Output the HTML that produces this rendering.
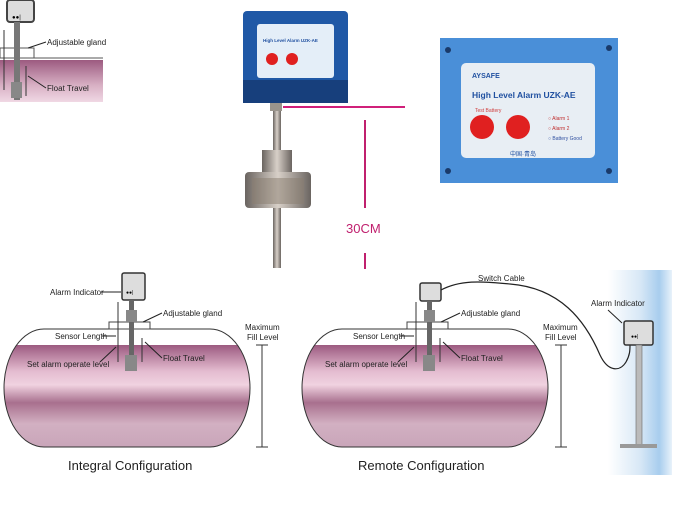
<!DOCTYPE html>
<html><head><meta charset="utf-8"><style>
html,body{margin:0;padding:0;background:#fff;}
svg{display:block;}
text{font-family:"Liberation Sans",sans-serif;}
</style></head><body>
<svg width="700" height="506" viewBox="0 0 700 506" xmlns="http://www.w3.org/2000/svg">
<defs>
<linearGradient id="pk" x1="0" y1="0" x2="0" y2="1">
<stop offset="0" stop-color="#9c5a80"/>
<stop offset="0.25" stop-color="#e4bcd0"/>
<stop offset="0.38" stop-color="#f0d2e0"/>
<stop offset="0.55" stop-color="#a8708e"/>
<stop offset="0.75" stop-color="#d2b0c2"/>
<stop offset="1" stop-color="#c8a4b8"/>
</linearGradient>
<linearGradient id="pk2" x1="0" y1="0" x2="0" y2="1">
<stop offset="0" stop-color="#9c5a80"/>
<stop offset="0.6" stop-color="#d8b0c4"/>
<stop offset="1" stop-color="#f0d8e4"/>
</linearGradient>
<linearGradient id="bl" x1="0" y1="0" x2="1" y2="0">
<stop offset="0" stop-color="#ffffff"/>
<stop offset="0.5" stop-color="#d8e8f6"/>
<stop offset="0.8" stop-color="#a8cdee"/>
<stop offset="1" stop-color="#e8f2fa"/>
</linearGradient>
<linearGradient id="rod" x1="0" y1="0" x2="1" y2="0">
<stop offset="0" stop-color="#6a6460"/><stop offset="0.5" stop-color="#d8d0c8"/><stop offset="1" stop-color="#6a6460"/>
</linearGradient>
<clipPath id="t1"><rect x="4" y="329" width="246" height="118" rx="40" ry="59"/></clipPath>
<clipPath id="t2"><rect x="302" y="329" width="246" height="118" rx="40" ry="59"/></clipPath>
</defs>

<!-- top-left fragment -->
<rect x="0" y="60" width="103" height="42" fill="url(#pk2)"/>
<line x1="0" y1="58" x2="103" y2="58" stroke="#555"/>
<rect x="0" y="48" width="34" height="10" fill="#fff" stroke="#555"/>
<rect x="7" y="0" width="27" height="22" rx="3" fill="#ddd" stroke="#444" stroke-width="2"/>
<text x="12" y="19" font-size="6">●●|</text>
<rect x="14" y="22" width="6" height="78" fill="#777"/>
<rect x="11" y="82" width="11" height="16" fill="#888"/>
<line x1="4" y1="30" x2="4" y2="90" stroke="#333"/>
<line x1="26" y1="66" x2="26" y2="96" stroke="#333"/>
<text x="47" y="45" font-size="8" fill="#222">Adjustable gland</text>
<text x="47" y="91" font-size="8" fill="#222">Float Travel</text>
<line x1="28" y1="48" x2="46" y2="42" stroke="#222"/>
<line x1="28" y1="76" x2="46" y2="88" stroke="#222"/>

<!-- photo device -->
<rect x="243" y="11" width="105" height="92" rx="4" fill="#1f58a6"/>
<rect x="243" y="80" width="105" height="23" fill="#173f7c"/>
<rect x="257" y="24" width="77" height="54" rx="3" fill="#e4eef8"/>
<text x="263" y="42" font-size="4.5" fill="#2050a0" font-weight="bold">High Level Alarm UZK-AE</text>
<circle cx="272" cy="59" r="6" fill="#e02020"/><circle cx="292" cy="59" r="6" fill="#e02020"/>
<rect x="270" y="103" width="12" height="8" fill="#9a948c"/>
<rect x="273" y="111" width="8" height="157" fill="url(#rod)"/>
<rect x="262" y="150" width="30" height="24" fill="url(#rod)"/>
<rect x="245" y="172" width="66" height="36" rx="4" fill="url(#rod)"/>
<rect x="252" y="178" width="52" height="26" fill="#8a7e70" opacity="0.5"/>

<!-- magenta measurements -->
<line x1="283" y1="107" x2="405" y2="107" stroke="#d0207a" stroke-width="2"/>
<line x1="365" y1="120" x2="365" y2="208" stroke="#c0206e" stroke-width="2"/>
<line x1="365" y1="253" x2="365" y2="269" stroke="#c0206e" stroke-width="2"/>
<text x="346" y="233" font-size="13" fill="#c0206e">30CM</text>

<!-- big panel -->
<rect x="440" y="38" width="178" height="145" fill="#4a8fd8"/>
<circle cx="448" cy="50" r="3" fill="#1a3a6a"/><circle cx="609" cy="48" r="3" fill="#1a3a6a"/>
<circle cx="448" cy="171" r="3" fill="#1a3a6a"/><circle cx="609" cy="171" r="3" fill="#1a3a6a"/>
<rect x="461" y="63" width="134" height="95" rx="5" fill="#e8eef4"/>
<text x="472" y="78" font-size="7" fill="#2050a0" font-weight="bold">AYSAFE</text>
<text x="472" y="98" font-size="8.5" fill="#2050a0" font-weight="bold">High Level Alarm UZK-AE</text>
<text x="475" y="112" font-size="5" fill="#d04040">Test Battery</text>
<circle cx="482" cy="127" r="12" fill="#e02020"/><circle cx="518" cy="127" r="12" fill="#e02020"/>
<text x="548" y="120" font-size="5" fill="#c03030">○ Alarm 1</text>
<text x="548" y="130" font-size="5" fill="#c03030">○ Alarm 2</text>
<text x="548" y="140" font-size="5" fill="#3050a0">○ Battery Good</text>
<text x="510" y="156" font-size="6" fill="#2050a0">中国·青岛</text>

<!-- right blue bg -->
<rect x="608" y="270" width="64" height="205" fill="url(#bl)"/>

<!-- tank 1 -->
<g clip-path="url(#t1)"><rect x="0" y="329" width="260" height="120" fill="#fff"/><rect x="0" y="345" width="260" height="105" fill="url(#pk)"/></g>
<rect x="4" y="329" width="246" height="118" rx="40" ry="59" fill="none" stroke="#333"/>
<rect x="109" y="322" width="41" height="7" fill="#fff" stroke="#444"/>
<rect x="122" y="273" width="23" height="27" rx="2" fill="#ddd" stroke="#333" stroke-width="1.5"/>
<text x="126" y="294" font-size="5">●●|</text>
<rect x="129" y="300" width="5" height="65" fill="#666"/>
<rect x="126" y="310" width="11" height="12" fill="#888"/>
<rect x="125" y="355" width="12" height="16" fill="#888"/>
<line x1="118" y1="302" x2="118" y2="362" stroke="#333"/>
<line x1="142" y1="338" x2="142" y2="362" stroke="#333"/>
<line x1="262" y1="345" x2="262" y2="447" stroke="#333"/>
<line x1="256" y1="345" x2="268" y2="345" stroke="#333"/><line x1="256" y1="447" x2="268" y2="447" stroke="#333"/>
<g font-size="8" fill="#222">
<text x="50" y="295">Alarm Indicator</text>
<text x="163" y="316">Adjustable gland</text>
<text x="55" y="339">Sensor Length</text>
<text x="27" y="367">Set alarm operate level</text>
<text x="163" y="361">Float Travel</text>
<text x="245" y="330">Maximum</text><text x="247" y="340">Fill Level</text>
</g>
<g stroke="#222"><line x1="101" y1="292" x2="121" y2="292"/><line x1="143" y1="322" x2="162" y2="313"/><line x1="102" y1="336" x2="116" y2="336"/><line x1="100" y1="362" x2="116" y2="347"/><line x1="145" y1="342" x2="162" y2="358"/></g>
<text x="68" y="470" font-size="13" fill="#222">Integral Configuration</text>

<!-- tank 2 -->
<g clip-path="url(#t2)"><rect x="300" y="329" width="260" height="120" fill="#fff"/><rect x="300" y="345" width="260" height="105" fill="url(#pk)"/></g>
<rect x="302" y="329" width="246" height="118" rx="40" ry="59" fill="none" stroke="#333"/>
<rect x="407" y="322" width="41" height="7" fill="#fff" stroke="#444"/>
<rect x="420" y="283" width="21" height="18" rx="2" fill="#ddd" stroke="#333" stroke-width="1.5"/>
<rect x="427" y="301" width="5" height="64" fill="#666"/>
<rect x="424" y="310" width="11" height="12" fill="#888"/>
<rect x="423" y="355" width="12" height="16" fill="#888"/>
<line x1="416" y1="302" x2="416" y2="362" stroke="#333"/>
<line x1="440" y1="338" x2="440" y2="362" stroke="#333"/>
<line x1="561" y1="345" x2="561" y2="447" stroke="#333"/>
<line x1="555" y1="345" x2="567" y2="345" stroke="#333"/><line x1="555" y1="447" x2="567" y2="447" stroke="#333"/>
<path d="M441 290 C460 280,480 281,510 284 C560 288,585 320,600 355 C608 372,620 372,626 362 C630 355,630 350,630 345" fill="none" stroke="#222" stroke-width="1.2"/>
<rect x="624" y="321" width="29" height="24" rx="2" fill="#ddd" stroke="#333" stroke-width="1.5"/>
<text x="631" y="338" font-size="5">●●|</text>
<rect x="636" y="345" width="6" height="100" fill="#bbb" stroke="#666" stroke-width="0.6"/>
<rect x="620" y="444" width="37" height="4" fill="#999"/>
<g font-size="8" fill="#222">
<text x="478" y="281">Switch Cable</text>
<text x="591" y="306">Alarm Indicator</text>
<text x="461" y="316">Adjustable gland</text>
<text x="353" y="339">Sensor Length</text>
<text x="325" y="367">Set alarm operate level</text>
<text x="461" y="361">Float Travel</text>
<text x="543" y="330">Maximum</text><text x="545" y="340">Fill Level</text>
</g>
<g stroke="#222"><line x1="441" y1="322" x2="460" y2="313"/><line x1="400" y1="336" x2="414" y2="336"/><line x1="398" y1="362" x2="414" y2="347"/><line x1="443" y1="342" x2="460" y2="358"/><line x1="608" y1="310" x2="622" y2="323"/></g>
<text x="358" y="470" font-size="13" fill="#222">Remote Configuration</text>
</svg>
</body></html>
